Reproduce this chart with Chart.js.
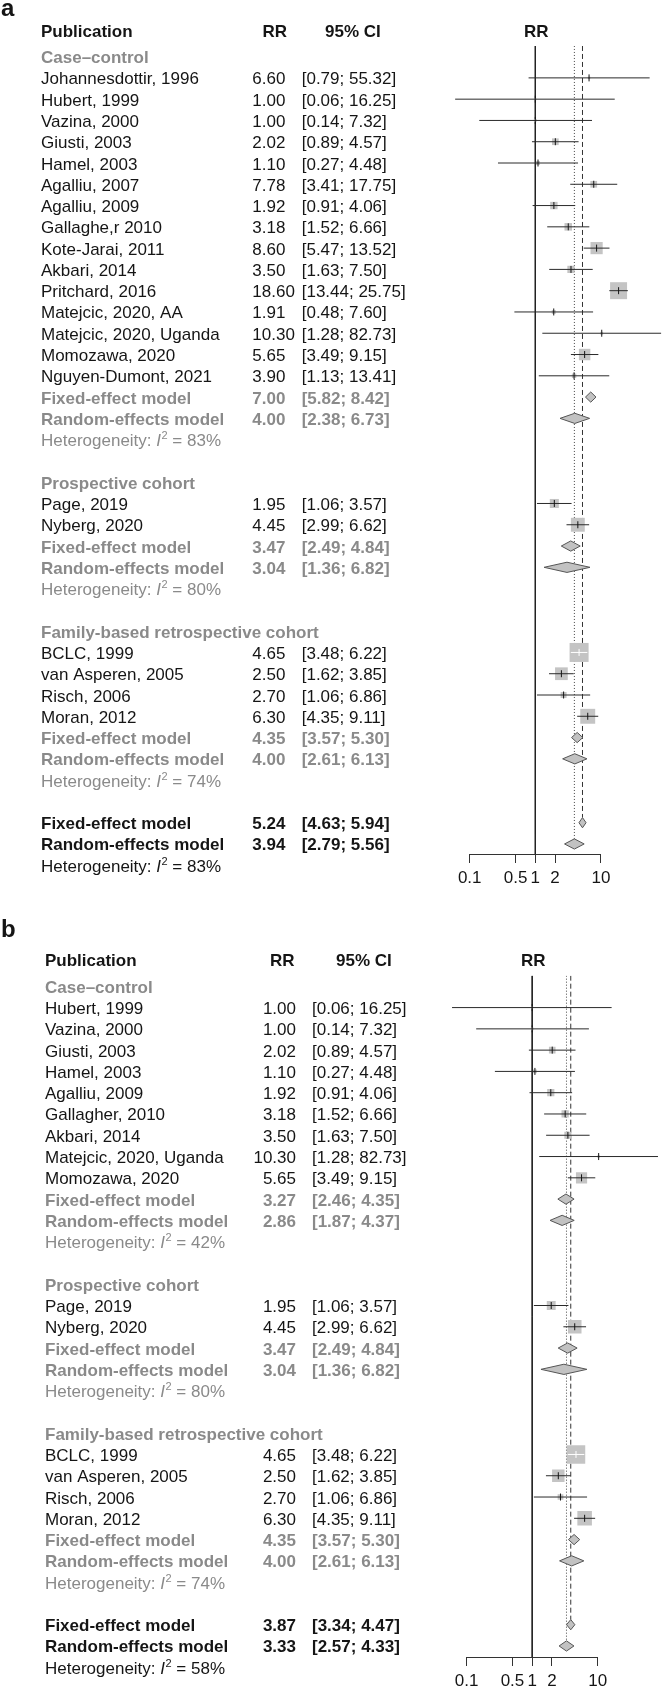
<!DOCTYPE html>
<html>
<head>
<meta charset="utf-8">
<script src="https://cdn.jsdelivr.net/npm/chart.js@4.4.0/dist/chart.umd.min.js"></script>
<style>
  body { margin: 0; background: #fff; }
  #wrap { position: relative; width: 662px; height: 1687px; }
  canvas { position: absolute; left: 0; }
</style>
</head>
<body>
<div id="wrap">
  <canvas id="panelA" width="662" height="900" style="top:0px"></canvas>
  <canvas id="panelB" width="662" height="787" style="top:900px"></canvas>
</div>

<script>
  const groupNames = ['Case–control', 'Prospective cohort', 'Family-based retrospective cohort'];
  const tickValues = [0.1, 0.5, 1, 2, 10];
  const tickLabels = ['0.1', '0.5', '1', '2', '10'];

  // panel a
  const studiesA = ['Johannesdottir, 1996', 'Hubert, 1999', 'Vazina, 2000', 'Giusti, 2003', 'Hamel, 2003',
    'Agalliu, 2007', 'Agalliu, 2009', 'Gallaghe,r 2010', 'Kote-Jarai, 2011', 'Akbari, 2014', 'Pritchard, 2016',
    'Matejcic, 2020, AA', 'Matejcic, 2020, Uganda', 'Momozawa, 2020', 'Nguyen-Dumont, 2021',
    'Page, 2019', 'Nyberg, 2020',
    'BCLC, 1999', 'van Asperen, 2005', 'Risch, 2006', 'Moran, 2012'];
  const groupOfA = [0, 0, 0, 0, 0, 0, 0, 0, 0, 0, 0, 0, 0, 0, 0, 1, 1, 2, 2, 2, 2];
  const rrA = [6.60, 1.00, 1.00, 2.02, 1.10, 7.78, 1.92, 3.18, 8.60, 3.50, 18.60, 1.91, 10.30, 5.65, 3.90, 1.95, 4.45, 4.65, 2.50, 2.70, 6.30];
  const loA = [0.79, 0.06, 0.14, 0.89, 0.27, 3.41, 0.91, 1.52, 5.47, 1.63, 13.44, 0.48, 1.28, 3.49, 1.13, 1.06, 2.99, 3.48, 1.62, 1.06, 4.35];
  const hiA = [55.32, 16.25, 7.32, 4.57, 4.48, 17.75, 4.06, 6.66, 13.52, 7.50, 25.75, 7.60, 82.73, 9.15, 13.41, 3.57, 6.62, 6.22, 3.85, 6.86, 9.11];
  const weightA = [0.3, 0.2, 0.4, 2.3, 0.8, 2.3, 2.8, 2.9, 7.6, 2.7, 14.8, 0.8, 0.4, 6.7, 1.0, 4.2, 9.9, 18.5, 8.3, 1.8, 11.4];
  // one entry per subgroup, last entry is the overall model
  const fixedA = [7.00, 3.47, 4.35, 5.24];
  const fixedLoA = [5.82, 2.49, 3.57, 4.63];
  const fixedHiA = [8.42, 4.84, 5.30, 5.94];
  const randomA = [4.00, 3.04, 4.00, 3.94];
  const randomLoA = [2.38, 1.36, 2.61, 2.79];
  const randomHiA = [6.73, 6.82, 6.13, 5.56];
  const i2A = [83, 80, 74, 83];

  // panel b
  const studiesB = ['Hubert, 1999', 'Vazina, 2000', 'Giusti, 2003', 'Hamel, 2003', 'Agalliu, 2009',
    'Gallagher, 2010', 'Akbari, 2014', 'Matejcic, 2020, Uganda', 'Momozawa, 2020',
    'Page, 2019', 'Nyberg, 2020',
    'BCLC, 1999', 'van Asperen, 2005', 'Risch, 2006', 'Moran, 2012'];
  const groupOfB = [0, 0, 0, 0, 0, 0, 0, 0, 0, 1, 1, 2, 2, 2, 2];
  const rrB = [1.00, 1.00, 2.02, 1.10, 1.92, 3.18, 3.50, 10.30, 5.65, 1.95, 4.45, 4.65, 2.50, 2.70, 6.30];
  const loB = [0.06, 0.14, 0.89, 0.27, 0.91, 1.52, 1.63, 1.28, 3.49, 1.06, 2.99, 3.48, 1.62, 1.06, 4.35];
  const hiB = [16.25, 7.32, 4.57, 4.48, 4.06, 6.66, 7.50, 82.73, 9.15, 3.57, 6.62, 6.22, 3.85, 6.86, 9.11];
  const weightB = [0.3, 0.5, 3.2, 1.1, 3.8, 3.9, 3.7, 0.5, 9.2, 5.8, 13.5, 25.2, 11.4, 2.4, 15.6];
  const fixedB = [3.27, 3.47, 4.35, 3.87];
  const fixedLoB = [2.46, 2.49, 3.57, 3.34];
  const fixedHiB = [4.35, 4.84, 5.30, 4.47];
  const randomB = [2.86, 3.04, 4.00, 3.33];
  const randomLoB = [1.87, 1.36, 2.61, 2.57];
  const randomHiB = [4.37, 6.82, 6.13, 4.33];
  const i2B = [42, 80, 74, 58];

  const BLACK = '#151515';
  const GRAY = '#8a8a8a';
  const FAMILY = '"Liberation Sans", Arial, sans-serif';
  Chart.defaults.font.family = FAMILY;
  const F = (weight, size, style) => `${style || 'normal'} ${weight} ${size}px ${FAMILY}`;

  function buildRows(d) {
    const rows = [];
    let r = 0;
    groupNames.forEach((name, g) => {
      rows.push({ kind: 'group', k: g, row: r++ });
      d.groupOf.forEach((gg, i) => { if (gg === g) rows.push({ kind: 'study', i, row: r++ }); });
      rows.push({ kind: 'fixed', k: g, row: r++ });
      rows.push({ kind: 'random', k: g, row: r++ });
      rows.push({ kind: 'het', k: g, row: r++ });
      r++;
    });
    const k = groupNames.length;
    rows.push({ kind: 'fixed', k, row: r++ }, { kind: 'random', k, row: r++ }, { kind: 'het', k, row: r++ });
    return rows;
  }

  const fmt = v => v.toFixed(2);
  const ciText = (lo, hi) => '[' + fmt(lo) + '; ' + fmt(hi) + ']';

  function drawHet(ctx, x, y, pct, color) {
    ctx.fillStyle = color;
    ctx.textAlign = 'left';
    ctx.font = F('normal', 17);
    const a = 'Heterogeneity: ';
    ctx.fillText(a, x, y);
    x += ctx.measureText(a).width;
    ctx.font = F('normal', 17, 'italic');
    ctx.fillText('I', x, y);
    x += ctx.measureText('I').width + 0.5;
    ctx.font = F('normal', 11);
    ctx.fillText('2', x, y - 7);
    x += ctx.measureText('2').width;
    ctx.font = F('normal', 17);
    ctx.fillText(' = ' + pct + '%', x, y);
  }

  function makePanel(id, d, L) {
    const rows = buildRows(d);
    const yTop = -0.5;
    const chartTop = L.row0 + yTop * L.pitch;
    const yBottom = yTop + (L.axisY - chartTop) / L.pitch;
    const xMin = Math.pow(10, (L.plotLeft - L.refPx) / L.unit);
    const xMax = Math.pow(10, (662 - L.refPx) / L.unit);
    const wMax = Math.max(...d.weight);
    const side = i => L.sqMax * Math.sqrt(d.weight[i] / wMax);
    const h = 0.24;
    const studyRows = rows.filter(r => r.kind === 'study');
    const nO = groupNames.length;

    const inside = (chart, i) => {
      const x = chart.scales.x;
      if (!x) return false;
      return x.getPixelForValue(d.hi[i]) - x.getPixelForValue(d.lo[i]) <= side(i);
    };

    const datasets = [];
    // point estimate marks
    datasets.push({
      data: studyRows.map(r => ({ x: d.rr[r.i], y: r.row })),
      showLine: false, order: 0,
      pointStyle: 'line', pointRotation: 90, pointRadius: 3.5, pointBorderWidth: 1,
      pointBackgroundColor: 'rgba(0,0,0,0)',
      pointBorderColor: c => (c.dataIndex !== undefined && inside(c.chart, studyRows[c.dataIndex].i)) ? '#ffffff' : BLACK
    });
    // confidence intervals
    studyRows.forEach(r => {
      const s = side(r.i);
      datasets.push({
        data: [{ x: d.lo[r.i], y: r.row }, { x: d.hi[r.i], y: r.row }],
        order: 1, borderWidth: 1, borderColor: '#2a2a2a', pointRadius: 0,
        segment: { borderColor: c => (c.p1.x - c.p0.x <= s ? '#ffffff' : '#2a2a2a') }
      });
    });
    // weight squares
    datasets.push({
      data: studyRows.map(r => ({ x: d.rr[r.i], y: r.row })),
      showLine: false, order: 2, pointStyle: 'rect',
      pointRadius: studyRows.map(r => side(r.i) / Math.SQRT2),
      pointBackgroundColor: '#c4c4c4', pointBorderWidth: 0
    });
    // summary diamonds
    rows.filter(r => r.kind === 'fixed' || r.kind === 'random').forEach(r => {
      const f = r.kind === 'fixed';
      const est = f ? d.fixed[r.k] : d.random[r.k];
      const lo = f ? d.fixedLo[r.k] : d.randomLo[r.k];
      const hi = f ? d.fixedHi[r.k] : d.randomHi[r.k];
      datasets.push({
        data: [{ x: lo, y: r.row }, { x: est, y: r.row - h }, { x: hi, y: r.row }, { x: est, y: r.row + h }, { x: lo, y: r.row }],
        order: 3, fill: 'shape', backgroundColor: '#c2c2c2', borderColor: '#555555', borderWidth: 1, pointRadius: 0, tension: 0
      });
    });
    // reference line and overall model lines
    const fixedRow = rows.find(r => r.kind === 'fixed' && r.k === nO).row;
    const randomRow = rows.find(r => r.kind === 'random' && r.k === nO).row;
    datasets.push({
      data: [{ x: 1, y: yTop }, { x: 1, y: yBottom }],
      order: 4, borderColor: '#222222', borderWidth: 1, pointRadius: 0
    });
    datasets.push({
      data: [{ x: d.fixed[nO], y: yTop }, { x: d.fixed[nO], y: fixedRow - h }],
      order: 4, borderColor: '#333333', borderWidth: 1, borderDash: [5, 3], pointRadius: 0
    });
    datasets.push({
      data: [{ x: d.random[nO], y: yTop }, { x: d.random[nO], y: randomRow - h }],
      order: 4, borderColor: '#444444', borderWidth: 1, borderDash: [1, 2], pointRadius: 0
    });

    const textPlugin = {
      id: 'forestText',
      afterDraw(chart) {
        const ctx = chart.ctx;
        const xs = chart.scales.x;
        const ys = chart.scales.y;
        ctx.save();
        ctx.textBaseline = 'alphabetic';

        // axis line between first and last tick
        const ay = Math.round(chart.chartArea.bottom - 0.5) + 0.5;
        const ax0 = Math.round(xs.getPixelForValue(tickValues[0]) - 0.5) + 0.5;
        const ax1 = Math.round(xs.getPixelForValue(tickValues[tickValues.length - 1]) - 0.5) + 0.5;
        ctx.strokeStyle = '#333333';
        ctx.lineWidth = 1;
        ctx.beginPath();
        ctx.moveTo(ax0, ay);
        ctx.lineTo(ax1, ay);
        ctx.stroke();

        // panel letter and headers
        ctx.fillStyle = BLACK;
        ctx.font = F('bold', 24);
        ctx.textAlign = 'left';
        ctx.fillText(L.label, 1, L.labelBase);
        ctx.font = F('bold', 17);
        ctx.fillText('Publication', L.nameX, L.headBase);
        ctx.fillText('95% CI', L.ciHeadX, L.headBase);
        ctx.textAlign = 'right';
        ctx.fillText('RR', L.rrHeadRight, L.headBase);
        ctx.textAlign = 'center';
        ctx.fillText('RR', xs.getPixelForValue(1) + 1, L.headBase);

        const numbers = (rr, lo, hi, y) => {
          ctx.textAlign = L.rrAlign;
          ctx.fillText(fmt(rr), L.rrX, y);
          ctx.textAlign = 'left';
          ctx.fillText(ciText(lo, hi), L.ciX, y);
        };

        rows.forEach(r => {
          const y = ys.getPixelForValue(r.row) + 6.5;
          const overall = r.k === nO;
          ctx.textAlign = 'left';
          if (r.kind === 'group') {
            ctx.fillStyle = GRAY;
            ctx.font = F('bold', 17);
            ctx.fillText(groupNames[r.k], L.nameX, y);
          } else if (r.kind === 'study') {
            ctx.fillStyle = BLACK;
            ctx.font = F('normal', 17);
            ctx.fillText(d.studies[r.i], L.nameX, y);
            numbers(d.rr[r.i], d.lo[r.i], d.hi[r.i], y);
          } else if (r.kind === 'fixed' || r.kind === 'random') {
            const f = r.kind === 'fixed';
            ctx.fillStyle = overall ? BLACK : GRAY;
            ctx.font = F('bold', 17);
            ctx.fillText(f ? 'Fixed-effect model' : 'Random-effects model', L.nameX, y);
            if (f) numbers(d.fixed[r.k], d.fixedLo[r.k], d.fixedHi[r.k], y);
            else numbers(d.random[r.k], d.randomLo[r.k], d.randomHi[r.k], y);
          } else {
            drawHet(ctx, L.nameX, y, d.i2[r.k], overall ? BLACK : GRAY);
          }
        });
        ctx.restore();
      }
    };

    return new Chart(document.getElementById(id), {
      type: 'line',
      data: { datasets },
      options: {
        responsive: false,
        animation: false,
        devicePixelRatio: 1,
        events: [],
        layout: { autoPadding: false, padding: { left: L.plotLeft, right: 0, top: chartTop, bottom: 0 } },
        plugins: { legend: { display: false }, tooltip: { enabled: false } },
        scales: {
          x: {
            type: 'logarithmic',
            min: xMin,
            max: xMax,
            bounds: 'data',
            afterBuildTicks: s => { s.ticks = tickValues.map(v => ({ value: v })); },
            afterFit: s => { s.height = L.height - L.axisY; },
            border: { display: false },
            grid: { drawOnChartArea: false, drawTicks: true, tickLength: 9, color: '#333333', lineWidth: 1 },
            ticks: {
              autoSkip: false, maxRotation: 0, minRotation: 0, padding: 5.5,
              color: BLACK, font: { size: 17 },
              callback: (v, i) => tickLabels[i]
            }
          },
          y: { type: 'linear', display: false, reverse: true, min: yTop, max: yBottom, bounds: 'data' }
        }
      },
      plugins: [textPlugin]
    });
  }

  makePanel('panelA', {
    studies: studiesA, groupOf: groupOfA, rr: rrA, lo: loA, hi: hiA, weight: weightA,
    fixed: fixedA, fixedLo: fixedLoA, fixedHi: fixedHiA,
    random: randomA, randomLo: randomLoA, randomHi: randomHiA, i2: i2A
  }, {
    height: 900, label: 'a', labelBase: 15.5, headBase: 37.3, row0: 56.6, pitch: 21.28, axisY: 854,
    refPx: 535.3, unit: 65.6, plotLeft: 420, nameX: 41, rrX: 252.3, rrAlign: 'left', rrHeadRight: 287,
    ciX: 301.7, ciHeadX: 325, sqMax: 19
  });

  makePanel('panelB', {
    studies: studiesB, groupOf: groupOfB, rr: rrB, lo: loB, hi: hiB, weight: weightB,
    fixed: fixedB, fixedLo: fixedLoB, fixedHi: fixedHiB,
    random: randomB, randomLo: randomLoB, randomHi: randomHiB, i2: i2B
  }, {
    height: 787, label: 'b', labelBase: 37, headBase: 66, row0: 86.3, pitch: 21.28, axisY: 757,
    refPx: 532.2, unit: 65.6, plotLeft: 420, nameX: 45, rrX: 296, rrAlign: 'right', rrHeadRight: 294.5,
    ciX: 312, ciHeadX: 336, sqMax: 18.5
  });
</script>
</body>
</html>
